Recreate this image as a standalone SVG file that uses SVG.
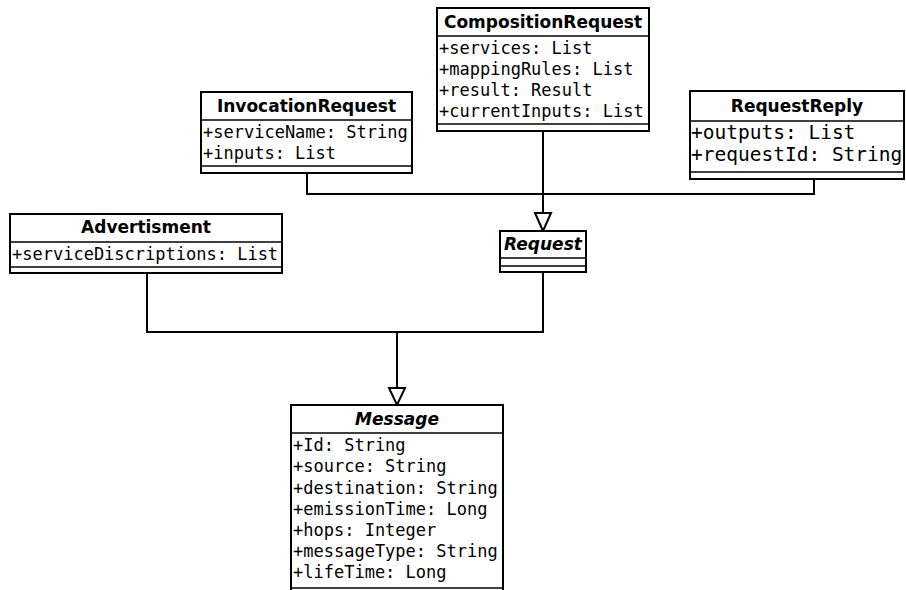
<svg xmlns="http://www.w3.org/2000/svg" width="906" height="590" viewBox="0 0 906 590">
<style>
.box{fill:#fff;stroke:#000;stroke-width:2}
.sep{stroke:#000;stroke-width:1.6;fill:none}
.hdr{font-family:"DejaVu Sans",sans-serif;font-weight:bold;font-size:17px;text-anchor:middle;fill:#000}
.abs{font-style:italic}
.attr{font-family:"DejaVu Sans Mono",monospace;font-size:17px;fill:#000}
.big{font-size:19.5px}
.conn{stroke:#000;stroke-width:2;fill:none}
.tri{fill:#fff;stroke:#000;stroke-width:2}
</style>
<g id="connectors">
<polyline class="conn" points="307,173 307,194 814,194 814,179"/>
<line class="conn" x1="543" y1="131" x2="543" y2="213"/>
<polygon class="tri" points="535,213 551,213 543,231"/>
<polyline class="conn" points="147,273 147,332 543,332 543,272"/>
<line class="conn" x1="397" y1="332" x2="397" y2="388"/>
<polygon class="tri" points="389,388 405,388 397,405"/>
</g>
<g id="CompositionRequest">
<rect class="box" x="437" y="8" width="212" height="123"/>
<line class="sep" x1="437" y1="36" x2="649" y2="36"/>
<line class="sep" x1="437" y1="124" x2="649" y2="124"/>
<text class="hdr" x="543" y="28">CompositionRequest</text>
<text class="attr" x="439" y="54">+services: List</text>
<text class="attr" x="439" y="75">+mappingRules: List</text>
<text class="attr" x="439" y="96">+result: Result</text>
<text class="attr" x="439" y="117">+currentInputs: List</text>
</g>
<g id="InvocationRequest">
<rect class="box" x="201" y="92" width="211" height="81"/>
<line class="sep" x1="201" y1="120" x2="412" y2="120"/>
<line class="sep" x1="201" y1="166" x2="412" y2="166"/>
<text class="hdr" x="306.5" y="112">InvocationRequest</text>
<text class="attr" x="203" y="138">+serviceName: String</text>
<text class="attr" x="203" y="159">+inputs: List</text>
</g>
<g id="RequestReply">
<rect class="box" x="690" y="91" width="214" height="88"/>
<line class="sep" x1="690" y1="121" x2="904" y2="121"/>
<line class="sep" x1="690" y1="172" x2="904" y2="172"/>
<text class="hdr" x="797" y="112">RequestReply</text>
<text class="attr big" x="691" y="139">+outputs: List</text>
<text class="attr big" x="691" y="161">+requestId: String</text>
</g>
<g id="Advertisment">
<rect class="box" x="10" y="214" width="272" height="59"/>
<line class="sep" x1="10" y1="242" x2="282" y2="242"/>
<line class="sep" x1="10" y1="267" x2="282" y2="267"/>
<text class="hdr" x="146" y="233">Advertisment</text>
<text class="attr" x="12" y="260">+serviceDiscriptions: List</text>
</g>
<g id="Request">
<rect class="box" x="500" y="231" width="86" height="41"/>
<line class="sep" x1="500" y1="258" x2="586" y2="258"/>
<line class="sep" x1="500" y1="266" x2="586" y2="266"/>
<text class="hdr abs" x="543" y="250">Request</text>
</g>
<g id="Message">
<rect class="box" x="291" y="405" width="212" height="200"/>
<line class="sep" x1="291" y1="433" x2="503" y2="433"/>
<line class="sep" x1="291" y1="588" x2="503" y2="588"/>
<text class="hdr abs" x="397" y="425">Message</text>
<text class="attr" x="293" y="451">+Id: String</text>
<text class="attr" x="293" y="472">+source: String</text>
<text class="attr" x="293" y="494">+destination: String</text>
<text class="attr" x="293" y="515">+emissionTime: Long</text>
<text class="attr" x="293" y="536">+hops: Integer</text>
<text class="attr" x="293" y="557">+messageType: String</text>
<text class="attr" x="293" y="578">+lifeTime: Long</text>
</g>
</svg>
